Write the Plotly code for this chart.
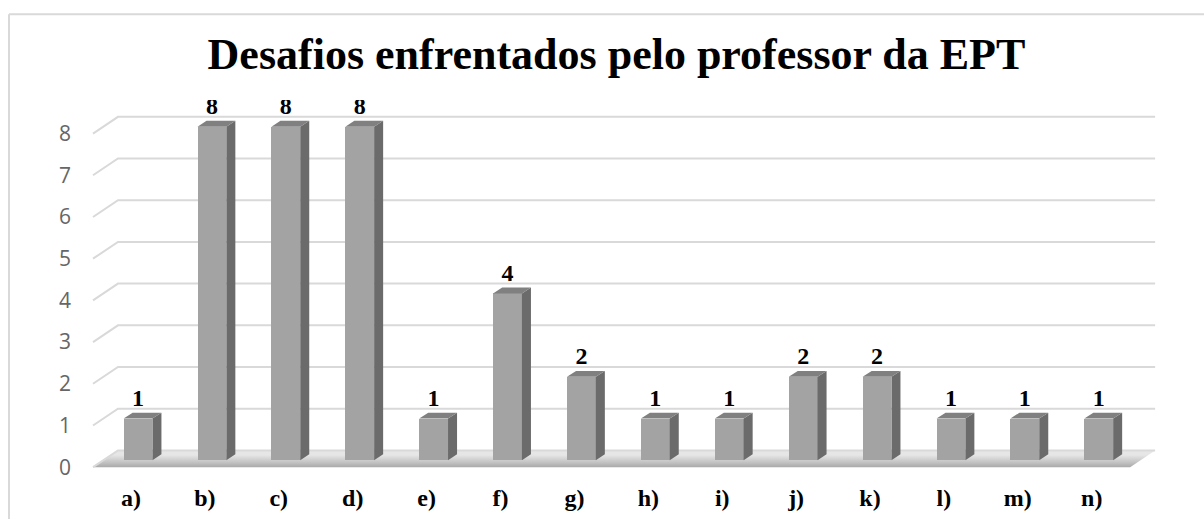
import plotly.graph_objects as go

categories = ["a)", "b)", "c)", "d)", "e)", "f)", "g)", "h)", "i)", "j)", "k)", "l)", "m)", "n)"]
values = [1, 8, 8, 8, 1, 4, 2, 1, 1, 2, 2, 1, 1, 1]
y_ticks = [0, 1, 2, 3, 4, 5, 6, 7, 8]
title_text = "Desafios enfrentados pelo professor da EPT"

idx = list(range(len(categories)))

# 3D pseudo-perspective parameters (in axis units)
WALL_DX, WALL_DY = 0.338, 0.402     # front plane -> back wall
FLOOR_LEFT, FLOOR_RIGHT = -0.514, 13.52
BAR_SHIFT, BAR_W, BAR_BASE = 0.095, 0.39, 0.166
DEPTH_DX, DEPTH_DY = 0.122, 0.142
XR = [-0.690, 13.924]
YR = [-0.331, 8.805]

fig = go.Figure()

# gridlines: diagonal on the left side wall + horizontal along back wall
gx, gy = [], []
for v in y_ticks:
    gx += [FLOOR_LEFT, FLOOR_LEFT + WALL_DX, FLOOR_RIGHT + WALL_DX, None]
    gy += [v, v + WALL_DY, v + WALL_DY, None]

# floor
fx = [FLOOR_LEFT, FLOOR_RIGHT, FLOOR_RIGHT + WALL_DX, FLOOR_LEFT + WALL_DX, FLOOR_LEFT]
fy = [0, 0, WALL_DY, WALL_DY, 0]
fig.add_trace(go.Scatter(x=fx, y=fy, mode="lines", line=dict(width=0), fill="toself",
                         fillgradient=dict(type="vertical", start=0, stop=WALL_DY,
                                           colorscale=[[0, "#ececec"], [0.18, "#a0a0a0"],
                                                       [0.5, "#bdbdbd"], [1, "#e6e6e6"]]),
                         hoverinfo="skip", showlegend=False))
fig.add_trace(go.Scatter(x=gx, y=gy, mode="lines", line=dict(color="#d9d9d9", width=2),
                         hoverinfo="skip", showlegend=False))

# front faces (on overlaid axes so they sit above the gridlines)
fig.add_trace(go.Bar(x=[i + BAR_SHIFT for i in idx], y=values, base=BAR_BASE, width=BAR_W,
                     marker=dict(color="#a3a3a3", line=dict(width=0)), showlegend=False,
                     hoverinfo="skip", xaxis="x2", yaxis="y2"))

# side and top faces
sx, sy, tx, ty = [], [], [], []
for i, v in zip(idx, values):
    xl = i + BAR_SHIFT - BAR_W / 2
    xr = i + BAR_SHIFT + BAR_W / 2
    top = BAR_BASE + v
    sx += [xr, xr + DEPTH_DX, xr + DEPTH_DX, xr, xr, None]
    sy += [BAR_BASE, BAR_BASE + DEPTH_DY, top + DEPTH_DY, top, BAR_BASE, None]
    tx += [xl, xl + DEPTH_DX, xr + DEPTH_DX, xr, xl, None]
    ty += [top, top + DEPTH_DY, top + DEPTH_DY, top, top, None]
fig.add_trace(go.Scatter(x=sx, y=sy, mode="lines", line=dict(width=0), fill="toself",
                         fillcolor="#6b6b6b", hoverinfo="skip", showlegend=False,
                         xaxis="x2", yaxis="y2"))
fig.add_trace(go.Scatter(x=tx, y=ty, mode="lines", line=dict(width=0), fill="toself",
                         fillcolor="#808080", hoverinfo="skip", showlegend=False,
                         xaxis="x2", yaxis="y2"))

# data labels
fig.add_trace(go.Scatter(x=[i + BAR_SHIFT for i in idx], y=[v + BAR_BASE + 0.45 for v in values],
                         mode="text", text=[str(v) for v in values], textposition="middle center",
                         textfont=dict(family="Liberation Serif", size=24, color="black", weight="bold"),
                         hoverinfo="skip", showlegend=False, xaxis="x2", yaxis="y2"))

fig.update_layout(
    width=1204, height=523,
    margin=dict(l=80, r=44, t=100, b=37),
    paper_bgcolor="white", plot_bgcolor="white",
    title=dict(text="<b>" + title_text + "</b>", xref="container", yref="container",
               x=0.512, y=1 - 54 / 523, xanchor="center", yanchor="middle",
               font=dict(family="Liberation Serif", size=44, color="black")),
    xaxis=dict(range=XR, tickmode="array", tickvals=idx,
               ticktext=["<b>" + c + "</b>" for c in categories],
               tickfont=dict(family="Liberation Serif", size=24, color="black"),
               showgrid=False, zeroline=False, showline=False, ticks="", ticklabelstandoff=0),
    yaxis=dict(range=YR, tickmode="array", tickvals=y_ticks,
               tickfont=dict(family="Open Sans", size=21, color="#666666"),
               showgrid=False, zeroline=False, showline=False, ticks="", ticklabelstandoff=8),
    xaxis2=dict(range=XR, overlaying="x", visible=False),
    yaxis2=dict(range=YR, overlaying="y", visible=False),
    shapes=[
        dict(type="line", xref="paper", yref="paper", x0=(9 - 80) / 1080, x1=(9 - 80) / 1080,
             y0=(486 - 13) / 386, y1=-0.1, line=dict(color="#d9d9d9", width=2), layer="below"),
        dict(type="line", xref="paper", yref="paper", x0=(9 - 80) / 1080, x1=1.05,
             y0=(486 - 13) / 386, y1=(486 - 13) / 386, line=dict(color="#d9d9d9", width=2), layer="below"),
    ],
    bargap=0,
)

fig.write_html("out.html")
